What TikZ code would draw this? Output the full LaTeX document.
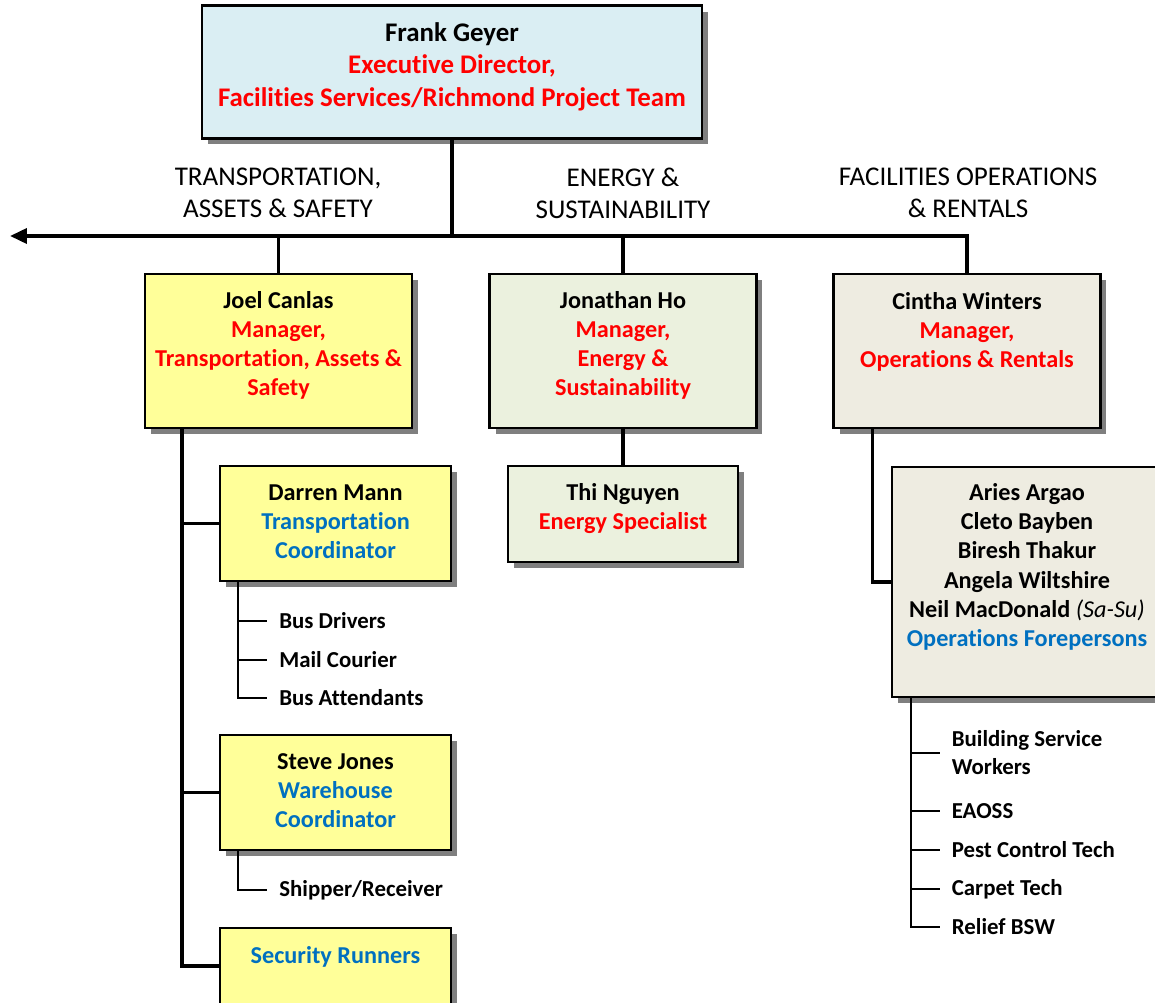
\documentclass[tikz,border=0pt]{standalone}
\usepackage{fontspec}
\setmainfont{Carlito}[Ligatures=NoCommon]
\usetikzlibrary{arrows.meta,shadows,calc}
\definecolor{topblue}{HTML}{DAEEF3}
\definecolor{tasyellow}{HTML}{FFFF99}
\definecolor{esgreen}{HTML}{EBF1DE}
\definecolor{opsbeige}{HTML}{EEECE1}
\definecolor{titlered}{HTML}{FF0000}
\definecolor{titleblue}{HTML}{0070C0}
\newcommand{\rt}[1]{\textcolor{titlered}{#1}}
\newcommand{\bt}[1]{\textcolor{titleblue}{#1}}
\newcommand{\lowrule}[1]{\rule[-#1]{0pt}{1pt}}
\begin{document}
\begin{tikzpicture}[x=0.02cm, y=-0.02cm, line width=2.1pt,
box/.style={rectangle,draw,line width=1.3pt,align=center,inner sep=0pt,drop shadow={shadow xshift=0.12cm,shadow yshift=-0.12cm,fill=black,opacity=0.5}},
top box/.style={box,fill=topblue,minimum width=10cm,minimum height=2.66cm,font=\fontsize{15.3}{18.7}\selectfont\bfseries},
mgr box/.style={box,minimum width=5.34cm,minimum height=3.08cm,font=\fontsize{13.8}{16.6}\selectfont\bfseries},
sub box/.style={box,minimum width=4.62cm,minimum height=2.3cm,font=\fontsize{13.8}{16.6}\selectfont\bfseries},
head/.style={align=center,inner sep=0pt,font=\fontsize{15.4}{18.1}\selectfont},
item/.style={anchor=west,inner xsep=0.21cm,inner ysep=0pt,align=left,font=\fontsize{13}{15.9}\selectfont\bfseries},
twig/.style={line width=1.2pt}]
\useasboundingbox (0,0) rectangle (1155,1003);
\clip (0,0) rectangle (1155,1003);
\begin{scope}
\node[top box] (frank) at (452,72) {Frank Geyer\\\rt{Executive Director,}\\\rt{Facilities Services/Richmond Project Team}\lowrule{8.5pt}};
\node[head] (tashead) at (278,193) {TRANSPORTATION,\\ASSETS \& SAFETY};
\node[head] (eshead) at (623,193) {ENERGY \&\\SUSTAINABILITY};
\node[head] (opshead) at (968,193) {FACILITIES OPERATIONS\\\& RENTALS};
\node[mgr box,fill=tasyellow] (joel) at (278.5,351) {Joel Canlas\\\rt{Manager,}\\\rt{Transportation, Assets \&}\\\rt{Safety}\lowrule{8.3pt}};
\node[mgr box,fill=esgreen] (jonathan) at (623,351) {Jonathan Ho\\\rt{Manager,}\\\rt{Energy \&}\\\rt{Sustainability}\lowrule{8.3pt}};
\node[mgr box,fill=opsbeige] (cintha) at (967,351) {Cintha Winters\\\rt{Manager,}\\\rt{Operations \& Rentals}\\\lowrule{7.3pt}};
\node[sub box,fill=tasyellow] (darren) at (335.5,523.5) {Darren Mann\\\bt{Transportation}\\\bt{Coordinator}\lowrule{2.3pt}};
\node[sub box,fill=tasyellow] (steve) at (335.5,792.5) {Steve Jones\\\bt{Warehouse}\\\bt{Coordinator}\lowrule{2.3pt}};
\node[sub box,fill=tasyellow] (security) at (335.5,985.5) {\bt{Security Runners}\\\strut\\\lowrule{1.6pt}};
\node[box,fill=esgreen,minimum width=4.6cm,minimum height=1.92cm,font=\fontsize{13.8}{16.6}\selectfont\bfseries] (thi) at (623,514) {Thi Nguyen\\\rt{Energy Specialist}\lowrule{8.3pt}};
\node[box,fill=opsbeige,minimum width=5.4cm,minimum height=4.6cm,font=\fontsize{13.8}{16.6}\selectfont\bfseries] (ops) at (1027,582) {Aries Argao\\Cleto Bayben\\Biresh Thakur\\Angela Wiltshire\\Neil MacDonald {\mdseries\itshape (Sa-Su)}\\\bt{Operations Forepersons}\\\lowrule{2.7pt}};
\node[item] (busdrivers) at (267,621) {Bus Drivers};
\node[item] (mailcourier) at (267,660) {Mail Courier};
\node[item] (busattendants) at (267,698) {Bus Attendants};
\node[item] (shipper) at (267,890) {Shipper/Receiver};
\node[item,inner xsep=0.2cm] (bsw) at (940,753) {Building Service\\Workers};
\node[item,inner xsep=0.2cm] (eaoss) at (940,811) {EAOSS};
\node[item,inner xsep=0.2cm] (pest) at (940,850) {Pest Control Tech};
\node[item,inner xsep=0.2cm] (carpet) at (940,889) {Carpet Tech};
\node[item,inner xsep=0.2cm] (relief) at (940,927) {Relief BSW};
\end{scope}
\begin{scope}
\coordinate (arrowend) at (10,236);
\coordinate (joelspine) at ($(joel.south west)+(38,0)$);
\coordinate (darrenspine) at ($(darren.south west)+(19,0)$);
\coordinate (stevespine) at ($(steve.south west)+(19,0)$);
\coordinate (securityin) at ($(security.north west)+(0,39)$);
\coordinate (cinthaspine) at ($(cintha.south west)+(40,0)$);
\coordinate (opsspine) at ($(ops.south west)+(20,0)$);
\draw[-{Triangle[length=0.34cm,width=0.3cm]}] (cintha.north) |- (arrowend);
\draw (frank.south) -- (frank.south |- arrowend);
\draw (joel.north) -- (joel.north |- arrowend);
\draw (jonathan.north) -- (jonathan.north |- arrowend);
\draw (jonathan) edge (thi);
\draw (joelspine) |- (darren.west);
\draw (joelspine) |- (steve.west);
\draw (joelspine) |- (securityin);
\draw (cinthaspine) |- (ops.west);
\draw[twig] (darrenspine) |- (busdrivers.west);
\draw[twig] (darrenspine) |- (mailcourier.west);
\draw[twig] (darrenspine) |- (busattendants.west);
\draw[twig] (stevespine) |- (shipper.west);
\draw[twig] (opsspine) |- (bsw.west);
\draw[twig] (opsspine) |- (eaoss.west);
\draw[twig] (opsspine) |- (pest.west);
\draw[twig] (opsspine) |- (carpet.west);
\draw[twig] (opsspine) |- (relief.west);
\end{scope}
\end{tikzpicture}
\end{document}
